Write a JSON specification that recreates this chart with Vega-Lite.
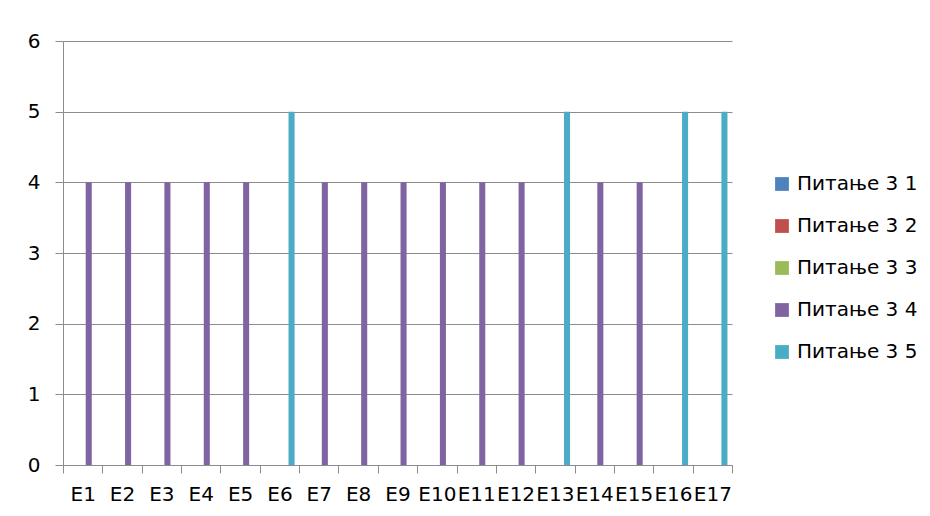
{
  "$schema": "https://vega.github.io/schema/vega-lite/v6.json",
  "width": 669,
  "height": 424,
  "autosize": {"type": "none"},
  "padding": {"left": 63, "top": 41, "right": 198, "bottom": 51},
  "background": "white",
  "data": {
    "values": [
      {"item": "E1", "series": "Питање 3 4", "value": 4},
      {"item": "E2", "series": "Питање 3 4", "value": 4},
      {"item": "E3", "series": "Питање 3 4", "value": 4},
      {"item": "E4", "series": "Питање 3 4", "value": 4},
      {"item": "E5", "series": "Питање 3 4", "value": 4},
      {"item": "E6", "series": "Питање 3 5", "value": 5},
      {"item": "E7", "series": "Питање 3 4", "value": 4},
      {"item": "E8", "series": "Питање 3 4", "value": 4},
      {"item": "E9", "series": "Питање 3 4", "value": 4},
      {"item": "E10", "series": "Питање 3 4", "value": 4},
      {"item": "E11", "series": "Питање 3 4", "value": 4},
      {"item": "E12", "series": "Питање 3 4", "value": 4},
      {"item": "E13", "series": "Питање 3 5", "value": 5},
      {"item": "E14", "series": "Питање 3 4", "value": 4},
      {"item": "E15", "series": "Питање 3 4", "value": 4},
      {"item": "E16", "series": "Питање 3 5", "value": 5},
      {"item": "E17", "series": "Питање 3 5", "value": 5}
    ]
  },
  "mark": {"type": "bar", "width": {"band": 1}},
  "encoding": {
    "x": {
      "field": "item",
      "type": "nominal",
      "sort": ["E1", "E2", "E3", "E4", "E5", "E6", "E7", "E8", "E9", "E10", "E11", "E12", "E13", "E14", "E15", "E16", "E17"],
      "scale": {"paddingInner": 0, "paddingOuter": 0},
      "axis": {
        "title": null,
        "labelAngle": 0,
        "tickBand": "extent",
        "tickSize": 8,
        "labelPadding": 11,
        "grid": false
      }
    },
    "xOffset": {
      "field": "series",
      "type": "nominal",
      "scale": {
        "domain": ["Питање 3 1", "Питање 3 2", "Питање 3 3", "Питање 3 4", "Питање 3 5"],
        "paddingInner": 0,
        "paddingOuter": 0.75
      }
    },
    "y": {
      "field": "value",
      "type": "quantitative",
      "scale": {"domain": [0, 6], "nice": false},
      "axis": {
        "title": null,
        "values": [0, 1, 2, 3, 4, 5, 6],
        "tickSize": 8,
        "labelPadding": 15,
        "grid": true
      }
    },
    "color": {
      "field": "series",
      "type": "nominal",
      "scale": {
        "domain": ["Питање 3 1", "Питање 3 2", "Питање 3 3", "Питање 3 4", "Питање 3 5"],
        "range": ["#4F81BD", "#C0504D", "#9BBB59", "#8064A2", "#4BACC6"]
      },
      "legend": {
        "title": null,
        "orient": "none",
        "legendX": 709,
        "legendY": 133,
        "symbolType": "square",
        "symbolSize": 190,
        "symbolStrokeWidth": 0,
        "labelOffset": 5,
        "rowPadding": 22,
        "padding": 0
      }
    }
  },
  "config": {
    "font": "DejaVu Sans",
    "view": {"stroke": null},
    "axis": {
      "labelFont": "DejaVu Sans",
      "labelFontSize": 20,
      "labelColor": "#000000",
      "domainColor": "#8c8c8c",
      "tickColor": "#8c8c8c",
      "gridColor": "#8c8c8c",
      "gridOpacity": 1,
      "domainWidth": 1,
      "tickWidth": 1,
      "gridWidth": 1
    },
    "legend": {
      "labelFont": "DejaVu Sans",
      "labelFontSize": 20,
      "labelColor": "#000000",
      "symbolOpacity": 1
    }
  }
}
